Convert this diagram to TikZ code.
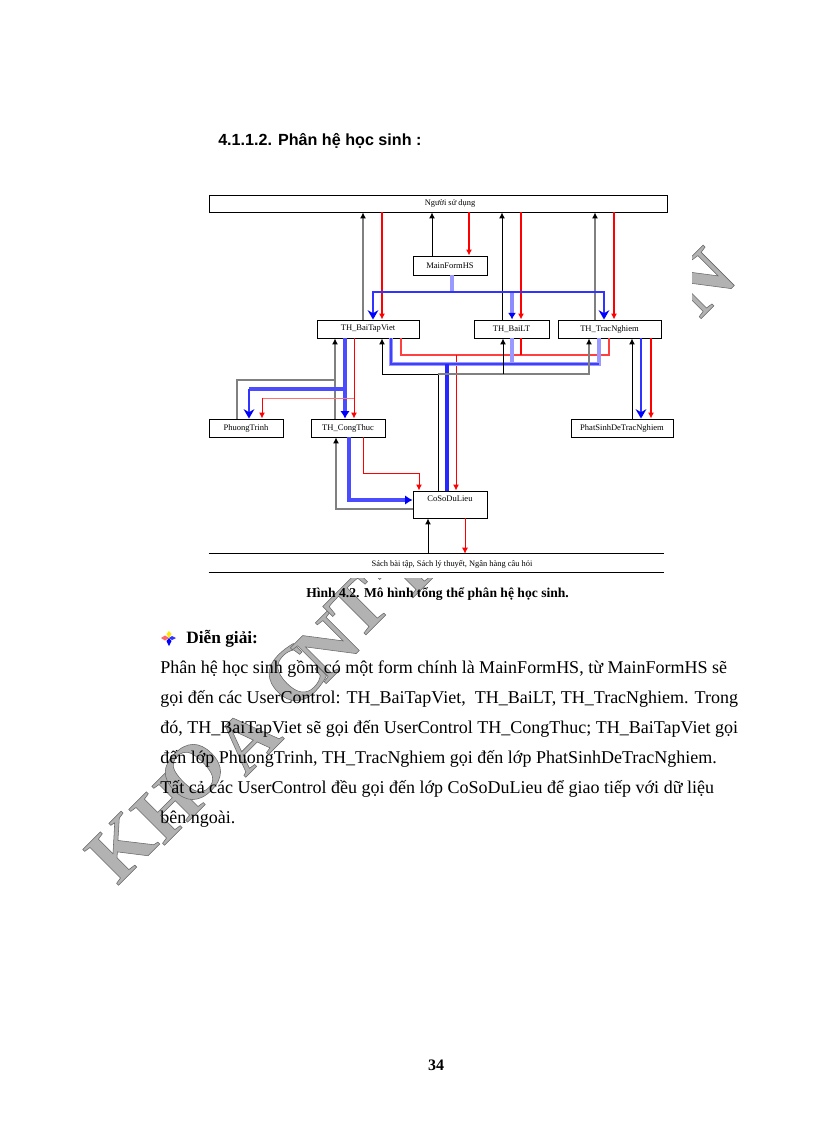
\documentclass[tikz,border=0pt]{standalone}
\usepackage{fontspec}
\usepackage{xcolor}
\setmainfont{Liberation Serif}
\newfontfamily\headfont{Liberation Sans}
\usetikzlibrary{arrows.meta, positioning, calc}

\newcommand{\outlined}[1]{\special{pdf:code q 2 Tr 0.4 w 0.4 G}#1\special{pdf:code Q}}

\tikzset{
  box/.style={draw=black, line width=0.7pt, fill=white, inner sep=0pt, font=\fontsize{6.4}{8}\selectfont},
  boxtext/.style={inner sep=0pt, font=\fontsize{6.3}{8}\selectfont},
  blacklink/.style={draw=black, line width=0.75pt, -{Latex[length=4.5pt,width=4.5pt]}},
  graylink/.style={draw=black!50, line width=0.8pt, -{Latex[length=4.5pt,width=4.5pt,black]}},
  redlink/.style={draw=red, line width=0.85pt, -{Latex[length=4.5pt,width=4.5pt]}},
  redthin/.style={draw=red, line width=0.75pt, -{Latex[length=4.5pt,width=4.5pt]}},
  palered/.style={draw=red!75, line width=0.8pt},
  bluepale/.style={draw=blue!45, line width=2.4pt, -{Latex[length=5pt,width=6pt,blue]}},
  bluedark/.style={draw=blue!70, line width=2.6pt, -{Latex[length=5.5pt,width=7pt,blue]}},
  bluehalo/.style={draw=blue!40, line width=2.6pt},
  bluemid/.style={draw=blue!80, line width=1.6pt, -{Stealth[length=7pt,width=8pt,blue]}},
  plain/.style={inner sep=0pt, anchor=base west},
  wmtext/.style={inner sep=0pt, rotate=45, text=black!30, font=\bfseries\fontsize{58}{58}\selectfont},
}

\begin{document}
\begin{tikzpicture}[x=0.75pt, y=-0.75pt]
\useasboundingbox (0,0) rectangle (816,1123);
\fill[white] (0,0) rectangle (816,1123);

% Watermark
\foreach \ch/\cx/\cy/\nm in {K/121/847/wmk, H/167/807/wmh, O/193/772/wmo, A/247/740/wma, C/295/675/wmc, N/327/647/wmn, T/358/607/wmt, T/405/570/wmu, T/659/311/wmv, N/702/282/wmw}
  \node[wmtext] (\nm) at (\cx,\cy) {\outlined{\ch}};

% Figure background
\fill[white] (200,185) rectangle (692,578);

% Boxes
\node[box, minimum width=343.5pt, minimum height=12.75pt] (user) at (438,203.5) {};
\node[boxtext] (usertext) at (450,203) {Người sử dụng};
\node[box, minimum width=55.5pt, minimum height=14.25pt] (main) at (450,265.5) {MainFormHS};
\node[box, minimum width=76.5pt, minimum height=13.5pt] (baitap) at (368,329) {TH\_BaiTapViet};
\node[box, minimum width=56.25pt, minimum height=13.5pt] (bailt) at (511.5,329) {TH\_BaiLT};
\node[box, minimum width=77.25pt, minimum height=13.5pt] (tracnghiem) at (609.5,329) {TH\_TracNghiem};
\node[box, minimum width=55.5pt, minimum height=13.5pt] (phuong) at (246,428) {PhuongTrinh};
\node[box, minimum width=55.5pt, minimum height=13.5pt] (congthuc) at (348,428) {TH\_CongThuc};
\node[box, minimum width=76.5pt, minimum height=13.5pt] (phatsinh) at (622,428) {PhatSinhDeTracNghiem};
\node[box, minimum width=55.5pt, text height=5pt, text depth=9.25pt, inner ysep=3pt] (coso) at (450,504.5) {CoSoDuLieu};
\node[minimum width=341.25pt, minimum height=13.5pt, inner sep=0pt] (kho) at (436.5,563) {};
\node[boxtext] (khotext) at (452,564) {Sách bài tập, Sách lý thuyết, Ngân hàng câu hỏi};
\draw[black, line width=0.8pt] (kho.north west) -- (kho.north east);
\draw[black, line width=0.8pt] (kho.south west) -- (kho.south east);

% Top links
\draw[graylink] (baitap.north -| 363,0) -- (user.south -| 363,0);
\draw[redlink] (user.south -| 382,0) -- (baitap.north -| 382,0);
\draw[blacklink] (main.north -| 432,0) -- (user.south -| 432,0);
\draw[redlink] (user.south -| 469,0) -- (main.north -| 469,0);
\draw[blacklink] (bailt.north -| 502,0) -- (user.south -| 502,0);
\draw[redlink] (user.south -| 521,0) -- (bailt.north -| 521,0);
\draw[graylink] (tracnghiem.north -| 595,0) -- (user.south -| 595,0);
\draw[redlink] (user.south -| 614,0) -- (tracnghiem.north -| 614,0);

% MainFormHS to the three controls
\coordinate (busmain) at (452,292);
\draw[bluehalo] (main.south -| busmain) -- (busmain);
\draw[bluepale] (512,292) -- (bailt.north -| 512,0);
\draw[bluemid] (busmain) -| (baitap.north -| 373,0);
\draw[bluemid] (busmain) -| (tracnghiem.north -| 604,0);

% Controls to CoSoDuLieu
\coordinate (busred) at (456,355);
\coordinate (busblue) at (447,364);
\coordinate (busblack) at (438,374);
\draw[palered] (baitap.south -| 401,0) |- (busred);
\draw[palered] (busred) -| (tracnghiem.south -| 609,0);
\draw[redlink, -] (bailt.south -| 521,0) -- (521,355);
\draw[redthin] (busred) -- (coso.north -| busred);
\draw[bluehalo] (bailt.south -| 512,0) -- (512,364);
\draw[bluehalo] (tracnghiem.south -| 599,0) |- (busblue);
\draw[bluehalo] (baitap.south -| 391,0) |- (busblue);
\draw[draw=blue!75, line width=0.9pt] (baitap.south -| 391,0) |- (599,364);
\draw[draw=blue!85, line width=2.6pt] (busblue) -- (coso.north -| busblue);
\draw[blacklink, -] (coso.north -| busblack) -- (busblack);
\draw[blacklink] (busblack) -| (baitap.south -| 382,0);
\draw[graylink] (busblack) -| (tracnghiem.south -| 589,0);
\draw[blacklink] (503,374) -- (bailt.south -| 503,0);

% TH_BaiTapViet to its two callees
\draw[graylink] (congthuc.north -| 335,0) -- (baitap.south -| 335,0);
\draw[draw=black!50, line width=0.8pt] (phuong.north -| 237,0) |- (335,380);
\draw[bluedark] (baitap.south -| 345,0) -- (congthuc.north -| 345,0);
\draw[draw=blue!70, line width=2.4pt] (345,389) -- (249,389);
\draw[bluemid] (249,389) -- (phuong.north -| 249,0);
\draw[redthin] (baitap.south -| 354,0) -- (congthuc.north -| 354,0);
\draw[draw=red!55, line width=0.7pt] (354,398) -- (262,398);
\draw[redthin] (262,398) -- (phuong.north -| 262,0);

% TH_CongThuc and CoSoDuLieu
\draw[graylink] (coso.west |- 336,509) -| (congthuc.south -| 336,0);
\draw[bluedark] (congthuc.south -| 349,0) |- (coso.west |- 349,500);
\draw[redthin] (congthuc.south -| 363,0) |- (419,473) -- (coso.north -| 419,0);

% TH_TracNghiem and PhatSinhDeTracNghiem
\draw[blacklink] (phatsinh.north -| 632,0) -- (tracnghiem.south -| 632,0);
\draw[bluemid] (tracnghiem.south -| 641,0) -- (phatsinh.north -| 641,0);
\draw[redlink] (tracnghiem.south -| 651,0) -- (phatsinh.north -| 651,0);

% CoSoDuLieu and the outside store
\draw[blacklink] (kho.north -| 428,0) -- (coso.south -| 428,0);
\draw[redthin] (coso.south -| 465,0) -- (kho.north -| 465,0);

% Page text
\node[plain, font=\headfont\bfseries\fontsize{12.1}{14}\selectfont] (heading) at (218,146) {4.1.1.2. Phân hệ học sinh :};
\node[plain, font=\bfseries\fontsize{10.2}{12}\selectfont] (caption) at (306,597) {Hình 4.2. Mô hình tổng thể phân hệ học sinh.};
\node[plain, font=\bfseries\fontsize{13}{15}\selectfont] (dien) at (186,643) {Diễn giải:};
\foreach \ln/\ly/\tx in {a/673/{Phân hệ học sinh gồm có một form chính là MainFormHS, từ MainFormHS sẽ},
    b/703/{gọi đến các UserControl: TH\_BaiTapViet,\ \ TH\_BaiLT, TH\_TracNghiem. Trong},
    c/733/{đó, TH\_BaiTapViet sẽ gọi đến UserControl TH\_CongThuc; TH\_BaiTapViet gọi},
    d/763/{đến lớp PhuongTrinh, TH\_TracNghiem gọi đến lớp PhatSinhDeTracNghiem.},
    e/793/{Tất cả các UserControl đều gọi đến lớp CoSoDuLieu để giao tiếp với dữ liệu},
    f/823/{bên ngoài.}}
  \node[plain, font=\fontsize{13.5}{15}\selectfont] (line\ln) at (160,\ly) {\tx};
\node[inner sep=0pt, anchor=base, font=\bfseries\fontsize{12}{14}\selectfont] (pagenum) at (436,1070) {34};

% Bullet
\fill[red!60] (169,638) -- (165,635.5) -- (161,638) -- (165,640.5) -- cycle;
\fill[yellow!90!orange] (169,638) -- (166.5,634) -- (169,631) -- (171.5,634) -- cycle;
\fill[blue] (169,638) -- (166.5,641) -- (169,646) -- (171.5,641) -- cycle;
\fill[blue!80] (169,638) -- (172,636) -- (176,638) -- (172,640) -- cycle;
\end{tikzpicture}
\end{document}
